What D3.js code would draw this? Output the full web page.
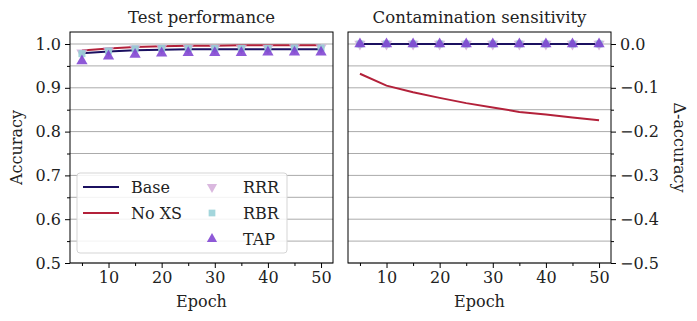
<!DOCTYPE html>
<html>
<head>
<meta charset="utf-8">
<script src="https://cdn.jsdelivr.net/npm/d3@7"></script>
<style>
  body { margin: 0; background: #fff; }
  text { font-family: "DejaVu Serif", serif; fill: #222; }
</style>
</head>
<body>
<svg id="chart" width="697" height="321"></svg>
<script>
// epochs where every run was evaluated
const epochs = [5, 10, 15, 20, 25, 30, 35, 40, 45, 50];

// test accuracy (left panel)
const baseAcc = [0.979, 0.983, 0.986, 0.987, 0.988, 0.988, 0.988, 0.988, 0.988, 0.988];
const noxsAcc = [0.985, 0.990, 0.993, 0.995, 0.996, 0.996, 0.997, 0.997, 0.997, 0.997];
const rrrAcc = [0.980, 0.985, 0.990, 0.991, 0.991, 0.991, 0.991, 0.991, 0.992, 0.992];
const rbrAcc = [0.978, 0.984, 0.989, 0.990, 0.990, 0.990, 0.990, 0.990, 0.991, 0.991];
const tapAcc = [0.961, 0.972, 0.976, 0.979, 0.980, 0.980, 0.980, 0.981, 0.981, 0.981];

// accuracy drop under contamination (right panel)
const baseDelta = [0.000, 0.000, 0.000, 0.000, 0.000, 0.000, 0.000, 0.000, 0.000, 0.000];
const noxsDelta = [-0.068, -0.095, -0.110, -0.123, -0.135, -0.145, -0.155, -0.161, -0.168, -0.174];
const rrrDelta = [0.000, 0.000, 0.000, 0.000, 0.000, 0.000, 0.000, 0.000, 0.000, 0.000];
const rbrDelta = [0.000, 0.000, 0.000, 0.000, 0.000, 0.000, 0.000, 0.000, 0.000, 0.000];
const tapDelta = [0.000, 0.000, 0.000, 0.000, 0.000, 0.000, 0.000, 0.000, 0.000, 0.000];

const xTicks = [10, 20, 30, 40, 50];
const leftTicks = [0.5, 0.6, 0.7, 0.8, 0.9, 1.0];
const rightTicks = [0.0, -0.1, -0.2, -0.3, -0.4, -0.5];

const colors = { base: "#1b1060", noxs: "#b3213a", rrr: "#d4acd9", rbr: "#93cfd6", tap: "#7a3cd0" };

const svg = d3.select("#chart");
const fontSize = 16;
const plotTop = 32, plotBottom = 263;

// one panel: frame, grid, axes, lines, markers
function drawPanel(opts) {
  const x = d3.scaleLinear().domain([2.75, 52.25]).range([opts.left, opts.right]);
  const y = d3.scaleLinear().domain(opts.yDomain).range([plotBottom, plotTop]);
  const g = svg.append("g");

  // grid at major and minor steps
  const gridVals = d3.range(0, 11).map(i => opts.yDomain[0] + i * 0.05);
  g.selectAll(".grid").data(gridVals).enter().append("line")
    .attr("x1", opts.left).attr("x2", opts.right)
    .attr("y1", d => y(d)).attr("y2", d => y(d))
    .attr("stroke", "#ababab").attr("stroke-width", 1);

  // x axis
  const xAxis = g.append("g").attr("transform", `translate(0,${plotBottom})`)
    .call(d3.axisBottom(x).tickValues(xTicks).tickSize(5).tickPadding(4).tickFormat(d3.format("d")));
  xAxis.select(".domain").remove();
  xAxis.selectAll("text").style("font-size", fontSize + "px").style("font-family", "DejaVu Serif");
  g.append("g").attr("transform", `translate(0,${plotBottom})`)
    .call(d3.axisBottom(x).tickValues([5, 15, 25, 35, 45]).tickSize(3).tickFormat(""))
    .select(".domain").remove();

  // y axis
  const yAxisFn = opts.side === "left" ? d3.axisLeft(y) : d3.axisRight(y);
  const yAxis = g.append("g").attr("transform", `translate(${opts.side === "left" ? opts.left : opts.right},0)`)
    .call(yAxisFn.tickValues(opts.yTicks).tickSize(5).tickPadding(4).tickFormat(d => d3.format(".1f")(d)));
  yAxis.select(".domain").remove();
  yAxis.selectAll("text").style("font-size", fontSize + "px").style("font-family", "DejaVu Serif");
  const minorY = d3.range(0, 5).map(i => opts.yDomain[0] + 0.05 + i * 0.1);
  const yMinorFn = opts.side === "left" ? d3.axisLeft(y) : d3.axisRight(y);
  g.append("g").attr("transform", `translate(${opts.side === "left" ? opts.left : opts.right},0)`)
    .call(yMinorFn.tickValues(minorY).tickSize(3).tickFormat(""))
    .select(".domain").remove();

  // lines
  const line = d3.line().x((d, i) => x(epochs[i])).y(d => y(d));
  g.append("path").attr("d", line(opts.base)).attr("fill", "none")
    .attr("stroke", colors.base).attr("stroke-width", 2);
  g.append("path").attr("d", line(opts.noxs)).attr("fill", "none")
    .attr("stroke", colors.noxs).attr("stroke-width", 2);

  // markers
  const markerSets = [
    { vals: opts.rrr, sym: d3.symbolTriangle, rot: 180, color: colors.rrr, size: 55 },
    { vals: opts.rbr, sym: d3.symbolSquare, rot: 0, color: colors.rbr, size: 50 },
    { vals: opts.tap, sym: d3.symbolTriangle, rot: 0, color: colors.tap, size: 55 }
  ];
  markerSets.forEach(m => {
    g.selectAll(null).data(m.vals).enter().append("path")
      .attr("d", d3.symbol().type(m.sym).size(m.size))
      .attr("transform", (d, i) => `translate(${x(epochs[i])},${y(d)}) rotate(${m.rot})`)
      .attr("fill", m.color).attr("opacity", 0.85);
  });

  // frame
  g.append("rect").attr("x", opts.left).attr("y", plotTop)
    .attr("width", opts.right - opts.left).attr("height", plotBottom - plotTop)
    .attr("fill", "none").attr("stroke", "#000").attr("stroke-width", 1);

  // titles
  g.append("text").attr("x", (opts.left + opts.right) / 2).attr("y", 23)
    .attr("text-anchor", "middle").style("font-size", "16.5px").text(opts.title);
  g.append("text").attr("x", (opts.left + opts.right) / 2).attr("y", 307)
    .attr("text-anchor", "middle").style("font-size", fontSize + "px").text("Epoch");
  return { x, y, g };
}

drawPanel({
  left: 70, right: 333, side: "left", title: "Test performance",
  yDomain: [0.5, 1.0274], yTicks: leftTicks,
  base: baseAcc, noxs: noxsAcc, rrr: rrrAcc, rbr: rbrAcc, tap: tapAcc
});
drawPanel({
  left: 348, right: 611, side: "right", title: "Contamination sensitivity",
  yDomain: [-0.5, 0.0274], yTicks: rightTicks,
  base: baseDelta, noxs: noxsDelta, rrr: rrrDelta, rbr: rbrDelta, tap: tapDelta
});

// y labels
svg.append("text").attr("transform", `translate(22,${(plotTop + plotBottom) / 2}) rotate(-90)`)
  .attr("text-anchor", "middle").style("font-size", fontSize + "px").text("Accuracy");
svg.append("text").attr("transform", `translate(674,${(plotTop + plotBottom) / 2}) rotate(90)`)
  .attr("text-anchor", "middle").style("font-size", fontSize + "px").text("Δ-accuracy");

// legend
const lg = svg.append("g");
lg.append("rect").attr("x", 77).attr("y", 173).attr("width", 210).attr("height", 80)
  .attr("rx", 3).attr("fill", "#fff").attr("fill-opacity", 0.85)
  .attr("stroke", "#d5d5d5");
const lineItems = [{ name: "Base", color: colors.base }, { name: "No XS", color: colors.noxs }];
lineItems.forEach((d, i) => {
  const yy = 187 + i * 26;
  lg.append("line").attr("x1", 83).attr("x2", 119).attr("y1", yy).attr("y2", yy)
    .attr("stroke", d.color).attr("stroke-width", 2);
  lg.append("text").attr("x", 131).attr("y", yy + 5.5).style("font-size", fontSize + "px").text(d.name);
});
const markerItems = [
  { name: "RRR", sym: d3.symbolTriangle, rot: 180, color: colors.rrr },
  { name: "RBR", sym: d3.symbolSquare, rot: 0, color: colors.rbr },
  { name: "TAP", sym: d3.symbolTriangle, rot: 0, color: colors.tap }
];
markerItems.forEach((d, i) => {
  const yy = 187 + i * 26;
  lg.append("path").attr("d", d3.symbol().type(d.sym).size(45))
    .attr("transform", `translate(212,${yy}) rotate(${d.rot})`)
    .attr("fill", d.color).attr("opacity", 0.85);
  lg.append("text").attr("x", 243).attr("y", yy + 5.5).style("font-size", fontSize + "px").text(d.name);
});
</script>
</body>
</html>
